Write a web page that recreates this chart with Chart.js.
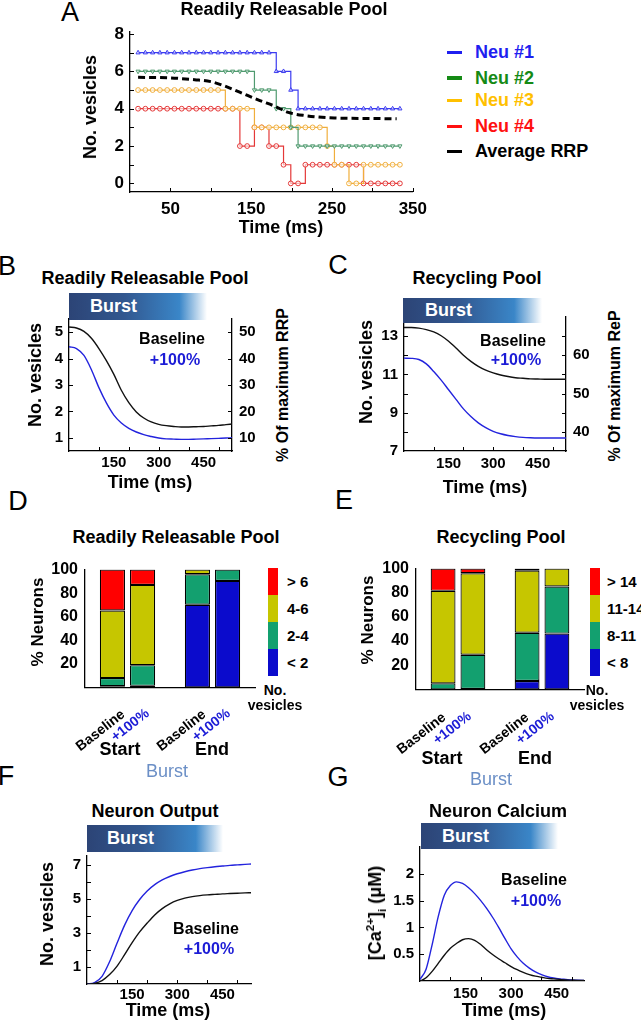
<!DOCTYPE html>
<html lang="en">
<head>
<meta charset="UTF-8">
<title>Vesicle pools during a burst</title>
<script src="https://cdn.jsdelivr.net/npm/chart.js"></script>
<style>
  body { margin: 0; background: #fff; }
  #fig { position: relative; width: 641px; height: 1020px; overflow: hidden;
         font-family: Arial, "Liberation Sans", sans-serif; color: #000; }
  #fig canvas { position: absolute; }
  .t { position: absolute; white-space: nowrap; font-weight: bold; line-height: 1; }
  .t sup, .t sub { font-size: 0.65em; line-height: 0; }
  .burst { position: absolute; box-sizing: border-box; color: #fff; font-weight: bold; font-size: 18px; z-index: 2;
           background: linear-gradient(to right, #2c4476 0%, #32578f 40%, #3a86c8 80%, #ffffff 100%); }
  .key { position: absolute; }
</style>
</head>
<body>
<div id="fig">
  <canvas id="cA"></canvas>
  <canvas id="cB"></canvas>
  <canvas id="cC"></canvas>
  <canvas id="cD"></canvas>
  <canvas id="cE"></canvas>
  <canvas id="cF"></canvas>
  <canvas id="cG"></canvas>
</div>

<script>
// ---- A: single neurons, step traces (vesicles in RRP)
const tA = [10,19,28,37,46,55,64,73,82,91,100,109,118,127,136,145,154,163,172,181,190,199,208,217,226,235,244,253,262,271,280,289,298,307,316,325,334];
const neu1 = [7,7,7,7,7,7,7,7,7,7,7,7,7,7,7,7,7,7,7,6,6,5,4,4,4,4,4,4,4,4,4,4,4,4,4,4,4];
const neu2 = [6,6,6,6,6,6,6,6,6,6,6,6,6,6,6,6,5,5,5,4,4,3,2,2,2,2,2,2,2,2,2,2,2,2,2,2,2];
const neu3 = [5,5,5,5,5,5,5,5,5,5,5,5,4,4,4,4,3,3,3,3,3,3,3,3,3,3,2,1,1,0,0,1,1,1,1,1,1];
const neu4 = [4,4,4,4,4,4,4,4,4,4,4,4,4,4,2,2,3,3,2,2,1,0,0,1,1,1,1,1,1,1,1,0,0,0,0,0,0];
const tAvg = [10,50,80,100,115,135,160,180,196,217,253,290,330];
const avgRRP = [5.68,5.65,5.55,5.45,5.25,4.9,4.45,4.12,3.8,3.63,3.5,3.48,3.46];
const aXLabels = [50,150,250,350];
const aXMarks = [50,100,150,200,250,300,350];
const aYLabels = [0,2,4,6,8];
const aYMarks = [0,1,2,3,4,5,6,7,8];

// ---- B / C: pool size over time
const tPool = [0,25,50,75,100,125,150,175,200,225,250,275,300,325,350,375,400,425,450,475,500,525,545];
const rrpBase = [5.2,5.16,5.03,4.77,4.38,3.92,3.4,2.8,2.33,1.98,1.75,1.6,1.51,1.46,1.43,1.41,1.41,1.42,1.43,1.45,1.47,1.5,1.52];
const rrpPlus = [4.45,4.38,4.12,3.58,2.9,2.32,1.86,1.56,1.36,1.22,1.12,1.05,0.99,0.96,0.95,0.94,0.94,0.95,0.96,0.97,0.98,0.99,1.0];
const repBase = [13.45,13.45,13.42,13.34,13.22,13.02,12.73,12.38,12.0,11.68,11.42,11.22,11.08,10.97,10.89,10.83,10.8,10.77,10.76,10.75,10.75,10.75,10.75];
const repPlus = [11.85,11.84,11.78,11.55,11.15,10.7,10.2,9.7,9.2,8.8,8.47,8.22,8.03,7.9,7.81,7.75,7.71,7.69,7.68,7.68,7.68,7.68,7.68];
const timeLabels = [150,300,450];
const timeMarks = [100,200,300,400,500];

// ---- D / E: distribution of neurons (order: Start baseline, Start +100%, End baseline, End +100%)
const phases = ['Start', 'End'];
const rrpLt2  = [1.0, 1.3, 70.1, 90.4];
const rrp2to4 = [6.9, 17.6, 26.0, 9.6];
const rrp4to6 = [57.4, 68.1, 3.9, 0];
const rrpGt6  = [34.7, 13.0, 0, 0];
const repLt8    = [0, 0.4, 6.9, 46.2];
const rep8to11  = [5.0, 28.3, 40.0, 39.0];
const rep11to14 = [76.6, 67.4, 51.4, 14.8];
const repGt14   = [18.4, 3.9, 1.7, 0];
const pctLabels = [20,40,60,80,100];

// ---- F: cumulative output
const tOut = [0,25,50,75,100,125,150,175,200,225,250,275,300,325,350,375,400,425,450,475,500,525,545];
const outPlus = [0,0.08,0.45,1.3,2.4,3.45,4.3,4.95,5.45,5.82,6.1,6.3,6.46,6.58,6.68,6.76,6.82,6.87,6.91,6.95,6.98,7.01,7.03];
const outBase = [0,0.04,0.2,0.55,1.05,1.72,2.42,3.05,3.57,4.05,4.42,4.7,4.9,5.03,5.12,5.18,5.22,5.25,5.28,5.3,5.32,5.34,5.35];

// ---- G: calcium
const tCa = [0,20,40,60,80,100,120,140,160,180,200,220,240,260,280,300,320,340,360,380,400,420,440,460,480,500,520,540];
const caPlus = [0.03,0.22,0.68,1.2,1.6,1.78,1.85,1.82,1.74,1.63,1.5,1.35,1.18,0.99,0.79,0.6,0.45,0.33,0.24,0.17,0.12,0.08,0.055,0.04,0.03,0.02,0.015,0.01];
const caBase = [0,0.06,0.18,0.33,0.48,0.61,0.7,0.77,0.79,0.76,0.68,0.58,0.49,0.41,0.34,0.27,0.21,0.16,0.12,0.09,0.07,0.05,0.04,0.03,0.02,0.015,0.01,0.01];

const BLUE = '#2323dd', TXTBLUE = '#1c1cd6', BLK = '#111';
const binColors = ['#0b0bcc', '#13a06f', '#c6c600', '#ff0000'];

Chart.defaults.font.family = 'Arial, "Liberation Sans", sans-serif';
Chart.defaults.color = '#000';

// small inward tick marks, like the original plotting program
Chart.register({
  id: 'inTicks',
  afterDatasetsDraw(chart, args, opts) {
    if (!opts || !opts.marks) return;
    const ctx = chart.ctx;
    ctx.save();
    ctx.strokeStyle = '#000';
    ctx.lineWidth = 1;
    for (const [id, vals] of Object.entries(opts.marks)) {
      const s = chart.scales[id];
      vals.forEach(v => {
        const p = Math.round(s.getPixelForValue(v)) + 0.5;
        ctx.beginPath();
        if (s.isHorizontal()) { ctx.moveTo(p, s.top); ctx.lineTo(p, s.top - 4); }
        else if (s.position === 'right') { ctx.moveTo(s.left, p); ctx.lineTo(s.left - 4, p); }
        else { ctx.moveTo(s.right, p); ctx.lineTo(s.right + 4, p); }
        ctx.stroke();
      });
    }
    ctx.restore();
  }
});

function linAxis(min, max, labels, pad, size, extra) {
  return Object.assign({
    type: 'linear', min, max,
    grid: { display: false, drawTicks: false },
    border: { display: true, color: '#000', width: 1.3 },
    ticks: { padding: pad, font: { size, weight: 'bold' }, color: '#000', callback: v => String(v) },
    afterBuildTicks: s => { s.ticks = labels.map(v => ({ value: v })); }
  }, extra || {});
}

const xy = (ts, vs) => ts.map((t, i) => ({ x: t, y: vs[i] }));
const curve = (ts, vs, color) => ({ data: xy(ts, vs), borderColor: color, borderWidth: 1.4, pointRadius: 0, cubicInterpolationMode: 'monotone' });

function makeChart(id, r, lay, cfg) {
  const p = lay.pad, rW = lay.rW || 0;
  const W = p.l + lay.yW + r.w + rW + p.r, H = p.t + r.h + lay.xH + p.b;
  const cv = document.getElementById(id);
  cv.width = W; cv.height = H;
  Object.assign(cv.style, { left: (r.x - lay.yW - p.l) + 'px', top: (r.y - p.t) + 'px', width: W + 'px', height: H + 'px' });
  const o = cfg.options;
  o.responsive = false;
  o.animation = false;
  o.layout = { padding: { left: p.l, top: p.t, right: p.r, bottom: p.b } };
  o.plugins = Object.assign({ legend: { display: false }, tooltip: { enabled: false } }, o.plugins || {});
  o.scales.x.afterFit = s => { s.height = lay.xH; };
  o.scales.y.afterFit = s => { s.width = lay.yW; };
  if (o.scales.y2) o.scales.y2.afterFit = s => { s.width = rW; };
  return new Chart(cv, cfg);
}

// ---------- A
const stepSet = (vals, color, style, rot) => ({
  data: xy(tA, vals), borderColor: color, borderWidth: 1.2, stepped: true,
  pointStyle: style, pointRotation: rot || 0, pointRadius: 2.4, pointBorderWidth: 1,
  pointBorderColor: color, pointBackgroundColor: 'rgba(255,255,255,0.6)'
});
makeChart('cA', { x: 130, y: 25, w: 286, h: 167 }, { yW: 40, xH: 30, pad: { l: 0, t: 10, r: 18, b: 2 } }, {
  type: 'line',
  data: { datasets: [
    { data: xy(tAvg, avgRRP), borderColor: '#000', borderWidth: 3, borderDash: [7, 4], pointRadius: 0, cubicInterpolationMode: 'monotone' },
    stepSet(neu1, '#3b3bf0', 'triangle'),
    stepSet(neu2, '#4f9a6f', 'triangle', 180),
    stepSet(neu3, '#f0ae3c', 'circle'),
    stepSet(neu4, '#e43838', 'circle')
  ] },
  options: {
    scales: { x: linAxis(0, 350, aXLabels, 7, 17), y: linAxis(-0.46, 8.15, aYLabels, 6, 17) },
    plugins: { inTicks: { marks: { x: aXMarks, y: aYMarks } } }
  }
});

// ---------- B
makeChart('cB', { x: 69, y: 313, w: 163, h: 138 }, { yW: 36, xH: 24, rW: 34, pad: { l: 0, t: 10, r: 2, b: 2 } }, {
  type: 'line',
  data: { datasets: [curve(tPool, rrpBase, BLK), curve(tPool, rrpPlus, BLUE)] },
  options: {
    scales: {
      x: linAxis(0, 545, timeLabels, 3, 15),
      y: linAxis(0.5, 5.5, [1,2,3,4,5], 6, 15),
      y2: linAxis(5, 55, [10,20,30,40,50], 7, 15, { position: 'right' })
    },
    plugins: { inTicks: { marks: { x: timeMarks, y: [1,2,3,4,5], y2: [10,20,30,40,50] } } }
  }
});

// ---------- C
makeChart('cC', { x: 404, y: 311, w: 162, h: 140 }, { yW: 36, xH: 24, rW: 34, pad: { l: 0, t: 10, r: 2, b: 2 } }, {
  type: 'line',
  data: { datasets: [curve(tPool, repBase, BLK), curve(tPool, repPlus, BLUE)] },
  options: {
    scales: {
      x: linAxis(0, 545, timeLabels, 4, 15),
      y: linAxis(7, 14, [7,9,11,13], 6, 15),
      y2: linAxis(35, 70, [40,50,60], 7, 15, { position: 'right' })
    },
    plugins: { inTicks: { marks: { x: timeMarks, y: [8,9,10,11,12,13], y2: [40,45,50,55,60,65] } } }
  }
});

// ---------- D / E
function barSets(bins) {
  const sets = [];
  bins.forEach((arr, k) => {
    [0, 1].forEach(j => sets.push({
      data: [arr[j], arr[j + 2]], stack: j ? 'plus' : 'base',
      backgroundColor: binColors[k], borderColor: '#000', borderWidth: 1.2, borderSkipped: false,
      barPercentage: 0.833, categoryPercentage: 0.71
    }));
  });
  return sets;
}
const catAxis = () => ({ type: 'category', stacked: true, grid: { display: false, drawTicks: false },
  border: { display: true, color: '#000', width: 1.3 }, ticks: { display: false } });

makeChart('cD', { x: 85, y: 563, w: 170, h: 135 }, { yW: 42, xH: 4, pad: { l: 0, t: 10, r: 2, b: 2 } }, {
  type: 'bar',
  data: { labels: phases, datasets: barSets([rrpLt2, rrp2to4, rrp4to6, rrpGt6]) },
  options: { scales: { x: catAxis(), y: linAxis(0, 100, pctLabels, 7, 16, { stacked: true }) } }
});
makeChart('cE', { x: 416, y: 562, w: 168, h: 138 }, { yW: 42, xH: 4, pad: { l: 0, t: 10, r: 2, b: 2 } }, {
  type: 'bar',
  data: { labels: phases, datasets: barSets([repLt8, rep8to11, rep11to14, repGt14]) },
  options: { scales: { x: catAxis(), y: linAxis(0, 100, pctLabels, 7, 16, { stacked: true }) } }
});

// ---------- F
makeChart('cF', { x: 87, y: 851, w: 164, h: 133 }, { yW: 36, xH: 24, pad: { l: 0, t: 10, r: 4, b: 2 } }, {
  type: 'line',
  data: { datasets: [curve(tOut, outBase, BLK), curve(tOut, outPlus, BLUE)] },
  options: {
    scales: { x: linAxis(0, 545, timeLabels, 2, 15), y: linAxis(0, 7.5, [1,3,5,7], 6, 15) },
    plugins: { inTicks: { marks: { x: timeMarks, y: [1,2,3,4,5,6,7] } } }
  }
});

// ---------- G
makeChart('cG', { x: 420, y: 842, w: 164, h: 139 }, { yW: 40, xH: 24, pad: { l: 0, t: 10, r: 4, b: 2 } }, {
  type: 'line',
  data: { datasets: [curve(tCa, caBase, BLK), curve(tCa, caPlus, BLUE)] },
  options: {
    scales: { x: linAxis(0, 540, timeLabels, 4, 15), y: linAxis(0, 2.5, [0.5,1,1.5,2], 6, 15) },
    plugins: { inTicks: { marks: { x: timeMarks, y: [0.5,1,1.5,2] } } }
  }
});

// ---------- text and decorations
const fig = document.getElementById('fig');
function txt(html, x, y, o = {}) {
  const d = document.createElement('div');
  d.className = 't';
  d.innerHTML = html;
  d.style.fontSize = (o.size || 18) + 'px';
  d.style.color = o.color || '#000';
  if (o.normal) d.style.fontWeight = 'normal';
  d.style.left = x + 'px';
  d.style.top = y + 'px';
  let tr = o.left ? 'translate(0,-50%)' : 'translate(-50%,-50%)';
  if (o.rot) tr += ' rotate(' + o.rot + 'deg)';
  d.style.transform = tr;
  fig.appendChild(d);
}
function slanted(html, x, y, color) {
  const d = document.createElement('div');
  d.className = 't';
  d.innerHTML = html;
  Object.assign(d.style, { fontSize: '14px', color, right: (641 - x) + 'px', top: (y - 7) + 'px',
    transformOrigin: '100% 50%', transform: 'rotate(-38deg)' });
  fig.appendChild(d);
}
function burst(x, y, w, h, textLeft) {
  const d = document.createElement('div');
  d.className = 'burst';
  Object.assign(d.style, { left: x + 'px', top: y + 'px', width: w + 'px', height: h + 'px',
    lineHeight: h + 'px', paddingLeft: (textLeft - x) + 'px' });
  d.textContent = 'Burst';
  fig.appendChild(d);
}
function colorKey(x, y0, labels, labelX) {
  const hs = [27, 27, 27, 27];
  let y = y0;
  [3, 2, 1, 0].forEach((k, i) => {
    const d = document.createElement('div');
    d.className = 'key';
    Object.assign(d.style, { left: x + 'px', top: y + 'px', width: '10px', height: hs[i] + 'px', background: binColors[k] });
    fig.appendChild(d);
    txt(labels[i], labelX, y + hs[i] / 2 - 0.5, { left: true, size: 15 });
    y += hs[i];
  });
  txt('No.', x + 7, 690, { size: 14 });
  txt('vesicles', x + 7, 705, { size: 14 });
}

// panel letters
[['A', 70, 12], ['B', 7, 266], ['C', 338, 265], ['D', 18, 501], ['E', 344, 500], ['F', 6, 776], ['G', 338, 777]]
  .forEach(([s, x, y]) => txt(s, x, y, { size: 27, normal: true }));

// A
txt('Readily Releasable Pool', 284, 9);
txt('No. vesicles', 90, 107, { rot: -90 });
txt('Time (ms)', 281, 227);
[['Neu #1', '#1f1ff0', 52], ['Neu #2', '#158a15', 77.5], ['Neu #3', '#ffc000', 100], ['Neu #4', '#ff1010', 126], ['Average RRP', '#000', 151]]
  .forEach(([s, c, y]) => {
    const d = document.createElement('div');
    d.className = 'key';
    Object.assign(d.style, { left: '447px', top: (y - 1.5) + 'px', width: '15px', height: '3.5px', background: c });
    fig.appendChild(d);
    txt(s, 475, y, { left: true, color: c });
  });

// B
txt('Readily Releasable Pool', 145, 278);
burst(69, 293, 138, 27, 90);
txt('No. vesicles', 35, 375, { rot: -90 });
txt('% Of maximum RRP', 283, 385, { rot: -90, size: 16 });
txt('Baseline', 172, 339, { size: 16 });
txt('+100%', 175, 360, { size: 16, color: TXTBLUE });
txt('Time (ms)', 150, 482);

// C
txt('Recycling Pool', 477, 278);
burst(403, 298, 139, 25, 425);
txt('No. vesicles', 366, 372, { rot: -90 });
txt('% Of maximum ReP', 615, 386, { rot: -90, size: 16 });
txt('Baseline', 513, 341, { size: 16 });
txt('+100%', 516, 360, { size: 16, color: TXTBLUE });
txt('Time (ms)', 485, 487);

// D
txt('Readily Releasable Pool', 176, 537);
txt('% Neurons', 37, 622, { rot: -90, size: 17 });
colorKey(268, 568, ['&gt; 6', '4-6', '2-4', '&lt; 2'], 287);
slanted('Baseline', 123, 712, '#000');
slanted('+100%', 147, 711, TXTBLUE);
slanted('Baseline', 204, 712, '#000');
slanted('+100%', 228, 711, TXTBLUE);
txt(phases[0], 120, 749);
txt(phases[1], 212, 749);
txt('Burst', 167, 771, { normal: true, color: '#6b8fc6' });

// E
txt('Recycling Pool', 501, 537);
txt('% Neurons', 367, 620, { rot: -90, size: 17 });
colorKey(590, 568, ['&gt; 14', '11-14', '8-11', '&lt; 8'], 607);
slanted('Baseline', 444, 715, '#000');
slanted('+100%', 469, 714, TXTBLUE);
slanted('Baseline', 527, 715, '#000');
slanted('+100%', 552, 714, TXTBLUE);
txt(phases[0], 442, 758);
txt(phases[1], 535, 758);
txt('Burst', 491, 779, { normal: true, color: '#6b8fc6' });

// F
txt('Neuron Output', 155, 811);
burst(87, 825, 136, 27, 107);
txt('No. vesicles', 47, 914, { rot: -90 });
txt('Baseline', 206, 929, { size: 16 });
txt('+100%', 209, 949, { size: 16, color: TXTBLUE });
txt('Time (ms)', 168, 1010);

// G
txt('Neuron Calcium', 498, 811);
burst(421, 823, 137, 26, 442);
txt('[Ca<sup>2+</sup>]<sub>i</sub> (μM)', 375, 913, { rot: -90 });
txt('Baseline', 534, 880, { size: 16 });
txt('+100%', 536, 901, { size: 16, color: TXTBLUE });
txt('Time (ms)', 504, 1010);
</script>
</body>
</html>
